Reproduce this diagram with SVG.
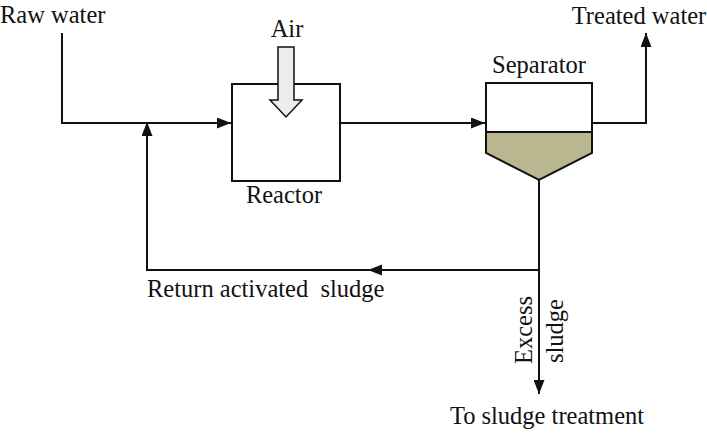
<svg xmlns="http://www.w3.org/2000/svg" width="707" height="434" viewBox="0 0 707 434">
<defs>
<style>
text{font-family:"Liberation Serif","Times New Roman",serif;font-size:24.5px;fill:#111}
.ln{fill:none;stroke:#111;stroke-width:2}
.box{fill:#fff;stroke:#111;stroke-width:2}
</style>
<marker id="ah" viewBox="0 0 14 11" refX="14" refY="5.5" markerWidth="14" markerHeight="11" markerUnits="userSpaceOnUse" orient="auto">
<path d="M0,0 L14,5.5 L0,11 Z" fill="#111"/>
</marker>
</defs>
<rect width="707" height="434" fill="#fff"/>
<g id="connectors">
<path class="ln" d="M62,33 V123 H231" marker-end="url(#ah)"/>
<path class="ln" d="M340,123 H485" marker-end="url(#ah)"/>
<path class="ln" d="M592,123 H646 V33" marker-end="url(#ah)"/>
<path class="ln" d="M539,180 V394" marker-end="url(#ah)"/>
<path class="ln" d="M539,270 H368"/>
<path d="M368,270 L382,264.5 L382,275.5 Z" fill="#111"/>
<path class="ln" d="M370,270 H147 V122" marker-end="url(#ah)"/>
</g>
<g id="raw-water"><text x="0" y="23">Raw water</text></g>
<g id="reactor">
<rect class="box" x="232" y="84" width="108" height="97"/>
<text x="284" y="203" text-anchor="middle">Reactor</text>
</g>
<g id="air">
<text x="287" y="37" text-anchor="middle">Air</text>
<path d="M278,47 H294 V100 H302 L286,117 L270,100 H278 Z" fill="#ececec" stroke="#111" stroke-width="1.5"/>
</g>
<g id="separator">
<rect class="box" x="486" y="83" width="106" height="49"/>
<path d="M486,132 H592 V153 L539,180 L486,153 Z" fill="#bab68f" stroke="#111" stroke-width="2"/>
<text x="539" y="73" text-anchor="middle">Separator</text>
</g>
<g id="treated-water"><text x="639" y="24" text-anchor="middle">Treated water</text></g>
<g id="return-label"><text x="147" y="297" xml:space="preserve">Return activated  sludge</text></g>
<g id="excess-sludge">
<text transform="translate(532,330) rotate(-90)" text-anchor="middle">Excess</text>
<text transform="translate(563,331) rotate(-90)" text-anchor="middle">sludge</text>
</g>
<g id="sludge-treatment"><text x="547" y="424" text-anchor="middle">To sludge treatment</text></g>
</svg>
